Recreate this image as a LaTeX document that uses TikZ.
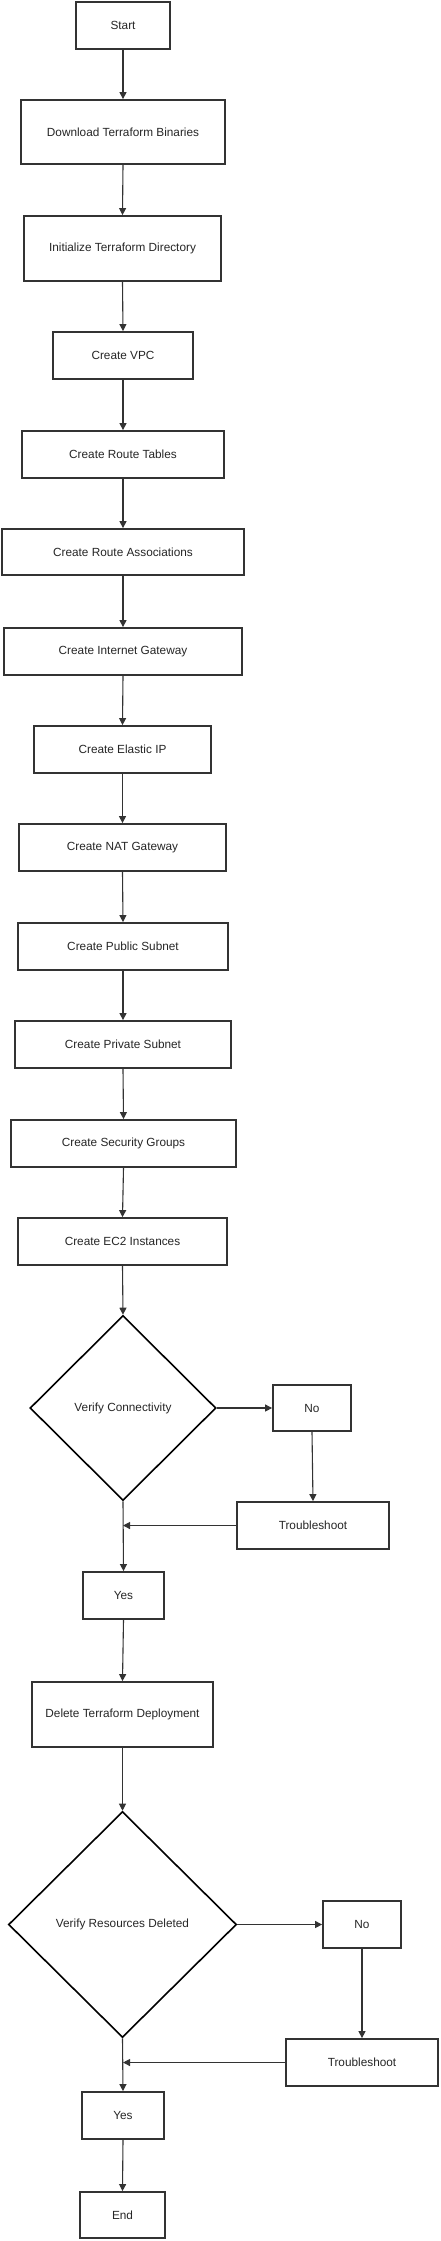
\documentclass[tikz,border=0pt]{standalone}
\usepackage{fontspec}
\setmainfont{Liberation Sans}
\usetikzlibrary{shapes.geometric,arrows.meta}
\tikzset{
  box/.style={draw=black!80, line width=1.8pt, rectangle, inner sep=0pt, fill=white,
              font=\fontsize{11.8}{14}\selectfont, text=black!85},
  decision/.style={draw=black, line width=1.6pt, diamond, inner sep=0pt, aspect=1,
              font=\fontsize{11.8}{14}\selectfont, text=black!85},
  flow/.style={draw=black!80, line width=1.1pt, -{Triangle[length=7pt,width=7pt]}},
}
\begin{document}
\begin{tikzpicture}[x=1pt,y=-1pt]
\useasboundingbox (0,0) rectangle (440,2241);
\node[box, minimum width=94pt, minimum height=47pt] (start) at (123,25.5) {Start};
\node[box, minimum width=204pt, minimum height=64pt] (download) at (123,132) {Download Terraform Binaries};
\node[box, minimum width=197pt, minimum height=65pt] (init) at (122.5,248.5) {Initialize Terraform Directory};
\node[box, minimum width=140pt, minimum height=47pt] (vpc) at (123,355.5) {Create VPC};
\node[box, minimum width=202pt, minimum height=47pt] (rt) at (123,454.5) {Create Route Tables};
\node[box, minimum width=242pt, minimum height=46pt] (ra) at (123,552) {Create Route Associations};
\node[box, minimum width=238pt, minimum height=47pt] (igw) at (123,651.5) {Create Internet Gateway};
\node[box, minimum width=177pt, minimum height=47pt] (eip) at (122.5,749.5) {Create Elastic IP};
\node[box, minimum width=207pt, minimum height=47pt] (nat) at (122.5,847.5) {Create NAT Gateway};
\node[box, minimum width=210pt, minimum height=47pt] (pub) at (123,946.5) {Create Public Subnet};
\node[box, minimum width=216pt, minimum height=47pt] (priv) at (123,1044.5) {Create Private Subnet};
\node[box, minimum width=225pt, minimum height=47pt] (sg) at (123.5,1143.5) {Create Security Groups};
\node[box, minimum width=209pt, minimum height=47pt] (ec2) at (122.5,1241.5) {Create EC2 Instances};
\node[decision, minimum width=186pt, minimum height=185pt] (vc) at (123,1408) {Verify Connectivity};
\node[box, minimum width=78pt, minimum height=46pt] (no1) at (312,1408) {No};
\node[box, minimum width=152pt, minimum height=47pt] (tr1) at (313,1525.5) {Troubleshoot};
\node[box, minimum width=81pt, minimum height=47pt] (yes1) at (123.5,1595.5) {Yes};
\node[box, minimum width=181pt, minimum height=65pt] (del) at (122.5,1714.5) {Delete Terraform Deployment};
\node[decision, minimum width=228pt, minimum height=226pt] (vr) at (122.5,1924.5) {Verify Resources Deleted};
\node[box, minimum width=78pt, minimum height=47pt] (no2) at (362,1924.5) {No};
\node[box, minimum width=152pt, minimum height=47pt] (tr2) at (362,2062.5) {Troubleshoot};
\node[box, minimum width=82pt, minimum height=47pt] (yes2) at (123,2115.5) {Yes};
\node[box, minimum width=85pt, minimum height=46pt] (end) at (122.5,2215) {End};
\coordinate (m1) at (123,1525.5);
\coordinate (m2) at (123,2062.5);

\draw[flow] (start.south) -- (download.north);
\draw[flow] (download.south) -- (init.north);
\draw[flow] (init.south) -- (vpc.north);
\draw[flow] (vpc.south) -- (rt.north);
\draw[flow] (rt.south) -- (ra.north);
\draw[flow] (ra.south) -- (igw.north);
\draw[flow] (igw.south) -- (eip.north);
\draw[flow] (eip.south) -- (nat.north);
\draw[flow] (nat.south) -- (pub.north);
\draw[flow] (pub.south) -- (priv.north);
\draw[flow] (priv.south) -- (sg.north);
\draw[flow] (sg.south) -- (ec2.north);
\draw[flow] (ec2.south) -- (vc.north);
\draw[flow] (vc.east) -- (no1.west);
\draw[flow] (no1.south) -- (tr1.north);
\draw[flow] (tr1.west) -- (m1);
\draw[flow] (vc.south) -- (yes1.north);
\draw[flow] (yes1.south) -- (del.north);
\draw[flow] (del.south) -- (vr.north);
\draw[flow] (vr.east) -- (no2.west);
\draw[flow] (no2.south) -- (tr2.north);
\draw[flow] (tr2.west) -- (m2);
\draw[flow] (vr.south) -- (yes2.north);
\draw[flow] (yes2.south) -- (end.north);
\end{tikzpicture}
\end{document}
